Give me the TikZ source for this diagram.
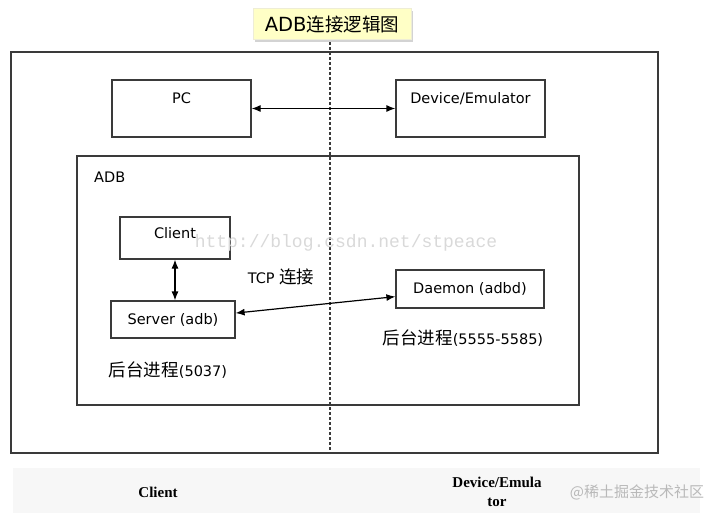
\documentclass[tikz,border=0pt]{standalone}
\usepackage{fontspec}
\setmainfont{DejaVu Sans}
\newfontfamily\cjk{Noto Sans CJK SC}
\newfontfamily\tnr{Liberation Serif}
\newfontfamily\wmono{Liberation Mono}
\usetikzlibrary{arrows.meta,shadows}
\definecolor{titlebg}{HTML}{FFFFC6}
\definecolor{edge}{HTML}{3A3A3A}

\begin{document}
\begin{tikzpicture}[x=1pt, y=-1pt,
      box/.style={draw=edge, line width=1.2pt, fill=white, inner sep=0pt, font=\fontsize{14.5}{16}\selectfont},
      frame/.style={draw=edge, line width=1.2pt, inner sep=0pt},
      note/.style={inner sep=0pt, font=\fontsize{14.5}{16}\selectfont},
      foot/.style={inner sep=0pt, align=center, font=\tnr\bfseries\fontsize{15}{19}\selectfont},
      arrow/.style={{Latex[length=9pt,width=7pt]}-{Latex[length=9pt,width=7pt]}, line width=1.2pt, draw=black}
    ]
      \useasboundingbox (0,0) rectangle (720,513);
      \fill[gray!6] (13,468) rectangle (700,513);

      % frames
      \node[frame, minimum width=647pt, minimum height=401pt] (outer) at (334.5,252.5) {};
      \node[frame, minimum width=502pt, minimum height=249pt] (adb) at (328,280.5) {};
      \node[note, anchor=west] (adblabel) at (94,177) {ADB};

      % split between client and device
      \coordinate (splittop) at (330,42);
      \coordinate (splitbot) at (330,453);
      \draw[edge, line width=1.3pt, dash pattern=on 3pt off 2pt] (splittop) -- (splitbot);

      \node[draw=yellow!40!gray!25, fill=titlebg, minimum width=158pt, minimum height=31pt,
            drop shadow={shadow xshift=2pt, shadow yshift=-3pt, opacity=.35},
            font=\fontsize{19.5}{21}\selectfont] (title) at (332,24) {ADB{\cjk\fontsize{18.5}{21}\selectfont 连接逻辑图}};

      \node[box, minimum width=139pt, minimum height=57pt, text height=11pt, text depth=20pt] (pc) at (181.5,108.5) {PC};
      \node[box, minimum width=149pt, minimum height=57pt, text height=11pt, text depth=20pt] (dev) at (470.5,108.5) {Device/Emulator};

      \node[box, minimum width=110pt, minimum height=42pt, text height=11pt, text depth=11pt] (client) at (175,238) {Client};
      \node[box, minimum width=124pt, minimum height=37pt] (server) at (173,319.5) {Server (adb)};
      \node[box, minimum width=148pt, minimum height=38pt] (daemon) at (470,289) {Daemon (adbd)};

      \node[note] (tcp) at (281,277) {TCP {\cjk\fontsize{17.5}{20}\selectfont 连接}};
      \node[note] (hostproc) at (168,370) {{\cjk\fontsize{17.5}{20}\selectfont 后台进程}(5037)};
      \node[note] (devproc) at (463,338) {{\cjk\fontsize{17.5}{20}\selectfont 后台进程}(5555-5585)};

      \draw[arrow] (pc) -- (dev);
      \draw[arrow] (client.south) -- (client.south |- server.north);
      \draw[arrow] (server) -- (daemon);

      \node[foot] (footclient) at (158,492) {Client};
      \node[foot] (footdev) at (497,492) {Device/Emula\\tor};

      % watermarks
      \node[inner sep=0pt, text=gray!30, font=\wmono\fontsize{18}{20}\selectfont] (wmcsdn) at (346,243) {http://blog.csdn.net/stpeace};
      \node[inner sep=0pt, text=gray!55, font=\cjk\fontsize{15}{18}\selectfont] (wmjj) at (637,492) {@稀土掘金技术社区};
    \end{tikzpicture}
\end{document}
